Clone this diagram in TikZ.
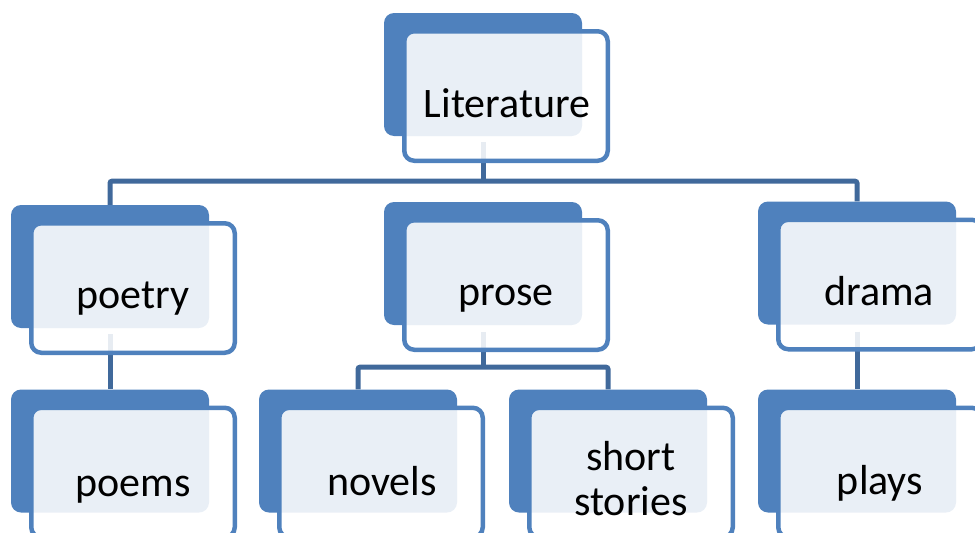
\documentclass[tikz,border=0pt]{standalone}
\usepackage{fontspec}
\setmainfont{Carlito}
\usetikzlibrary{calc}
\definecolor{boxblue}{RGB}{79,129,189}
\definecolor{connblue}{RGB}{64,105,155}
\tikzset{
  backbox/.style={rectangle, rounded corners=10pt, fill=boxblue, draw=none,
    minimum width=198pt, minimum height=123pt, inner sep=0pt},
  frontbox/.style={rectangle, rounded corners=10pt, draw=boxblue, line width=4.5pt,
    fill=white, fill opacity=0.88, minimum width=203.5pt, minimum height=129.5pt, inner sep=0pt},
  conn/.style={draw=connblue, line width=5pt, rounded corners=2pt},
  lbl/.style={anchor=base, inner sep=0pt, text=black, font=\fontsize{42}{45}\selectfont}
}
\begin{document}
\begin{tikzpicture}[x=1pt,y=-1pt]
\useasboundingbox (0,0) rectangle (975,533);
\clip (0,0) rectangle (975,533);
% back boxes
\node[backbox] (lit) at (483,74.5) {};
\node[backbox] (poetry) at (110,266.5) {};
\node[backbox] (prose) at (483,263.5) {};
\node[backbox] (drama) at (857,263) {};
\node[backbox] (poems) at (110,451) {};
\node[backbox] (novels) at (358,451) {};
\node[backbox] (short) at (608,451) {};
\node[backbox] (plays) at (857,451) {};
% connectors
\coordinate (j1) at ($(lit.south)+(0,45)$);
\coordinate (j2) at ($(prose.south)+(0,42)$);
\draw[conn] ($(lit.south)+(0,6)$) -- (j1);
\draw[conn] (poetry.north) |- (j1) -| (drama.north);
\draw[conn] ($(poetry.south)+(0,6)$) -- (poems.north);
\draw[conn] ($(prose.south)+(0,7)$) -- (j2);
\draw[conn] (novels.north) |- (j2) -| (short.north);
\draw[conn] ($(drama.south)+(0,7)$) -- (plays.north);
% front boxes
\foreach \n in {lit,poetry,prose,drama,poems,novels,short,plays}{
  \node[frontbox] (\n f) at ($(\n)+(23,21.5)$) {};
}
% labels
\node[lbl] (tlit) at (507,117) {Literature};
\node[lbl] (tpoetry) at (133,308) {poetry};
\node[lbl] (tprose) at (506,305) {prose};
\node[lbl] (tdrama) at (879,305) {drama};
\node[lbl] (tpoems) at (133,496) {poems};
\node[lbl] (tnovels) at (382,495) {novels};
\node[lbl, align=center] (tshort) at (631,515) {short\\stories};
\node[lbl] (tplays) at (880,494) {plays};
\end{tikzpicture}
\end{document}
